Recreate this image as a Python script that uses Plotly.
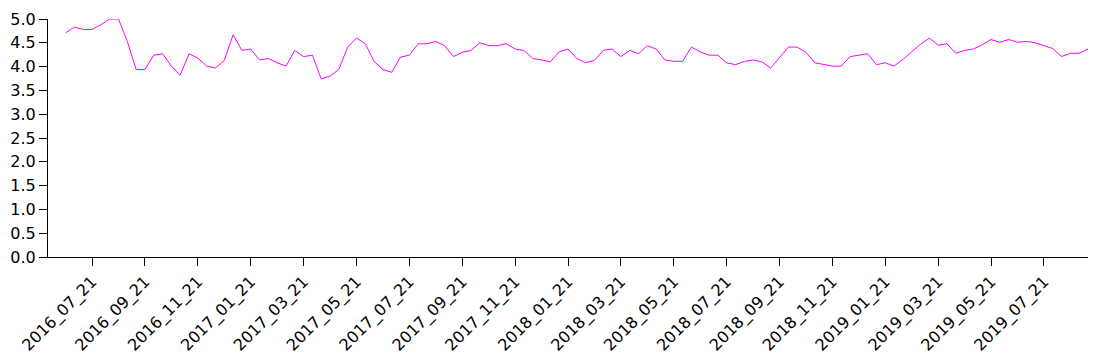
import datetime
import plotly.graph_objects as go

# Dekad dates (1st, 11th, 21st of each month) from 2016_06_21 to 2019_09_11
dates = []
y, m = 2016, 6
days = [21]
while True:
    for d in days:
        dates.append(f"{y:04d}_{m:02d}_{d:02d}")
    if (y, m) == (2019, 9):
        break
    m += 1
    if m > 12:
        m = 1
        y += 1
    days = [1, 11, 21] if (y, m) != (2019, 9) else [1, 11]

values = [
    4.71, 4.83, 4.78, 4.78, 4.88, 5.00, 5.00, 4.53, 3.94, 3.94,
    4.24, 4.27, 4.01, 3.82, 4.27, 4.18, 4.01, 3.97, 4.13, 4.67,
    4.34, 4.37, 4.14, 4.17, 4.08, 4.01, 4.34, 4.21, 4.24, 3.74,
    3.80, 3.94, 4.41, 4.60, 4.48, 4.11, 3.94, 3.88, 4.20, 4.24,
    4.48, 4.48, 4.53, 4.44, 4.21, 4.30, 4.34, 4.50, 4.44, 4.44,
    4.48, 4.37, 4.34, 4.17, 4.14, 4.10, 4.31, 4.37, 4.17, 4.08,
    4.13, 4.34, 4.37, 4.21, 4.34, 4.27, 4.44, 4.37, 4.14, 4.11,
    4.11, 4.41, 4.31, 4.24, 4.24, 4.08, 4.04, 4.11, 4.14, 4.10,
    3.97, 4.20, 4.41, 4.41, 4.30, 4.08, 4.04, 4.01, 4.01, 4.21,
    4.24, 4.27, 4.04, 4.08, 4.01, 4.15, 4.31, 4.47, 4.60, 4.45,
    4.48, 4.28, 4.34, 4.37, 4.46, 4.57, 4.51, 4.57, 4.51, 4.53,
    4.50, 4.44, 4.38, 4.21, 4.28, 4.28, 4.37,
]

tick_labels = [d for d in dates if d.endswith("_21") and int(d[5:7]) % 2 == 1]

fig = go.Figure(
    go.Scatter(
        x=dates,
        y=values,
        mode="lines",
        line=dict(color="#ff00ff", width=1),
        hoverinfo="x+y",
    )
)

font = dict(family="DejaVu Sans", size=16, color="#000000")

fig.update_layout(
    width=1096,
    height=364,
    margin=dict(l=48, r=8, t=19, b=107),
    paper_bgcolor="white",
    plot_bgcolor="white",
    showlegend=False,
    font=font,
    xaxis=dict(
        type="category",
        range=[-2, len(dates) - 1],
        tickmode="array",
        tickvals=tick_labels,
        ticktext=tick_labels,
        tickangle=-45,
        ticks="outside",
        ticklen=8,
        tickcolor="black",
        showline=True,
        linecolor="black",
        linewidth=1,
        showgrid=False,
        zeroline=False,
        tickfont=font,
    ),
    yaxis=dict(
        range=[0, 5],
        tickmode="linear",
        tick0=0,
        dtick=0.5,
        tickformat=".1f",
        ticks="outside",
        ticklen=8,
        tickcolor="black",
        showline=True,
        linecolor="black",
        linewidth=1,
        showgrid=False,
        zeroline=False,
        tickfont=font,
    ),
)

fig.write_html("out.html")
